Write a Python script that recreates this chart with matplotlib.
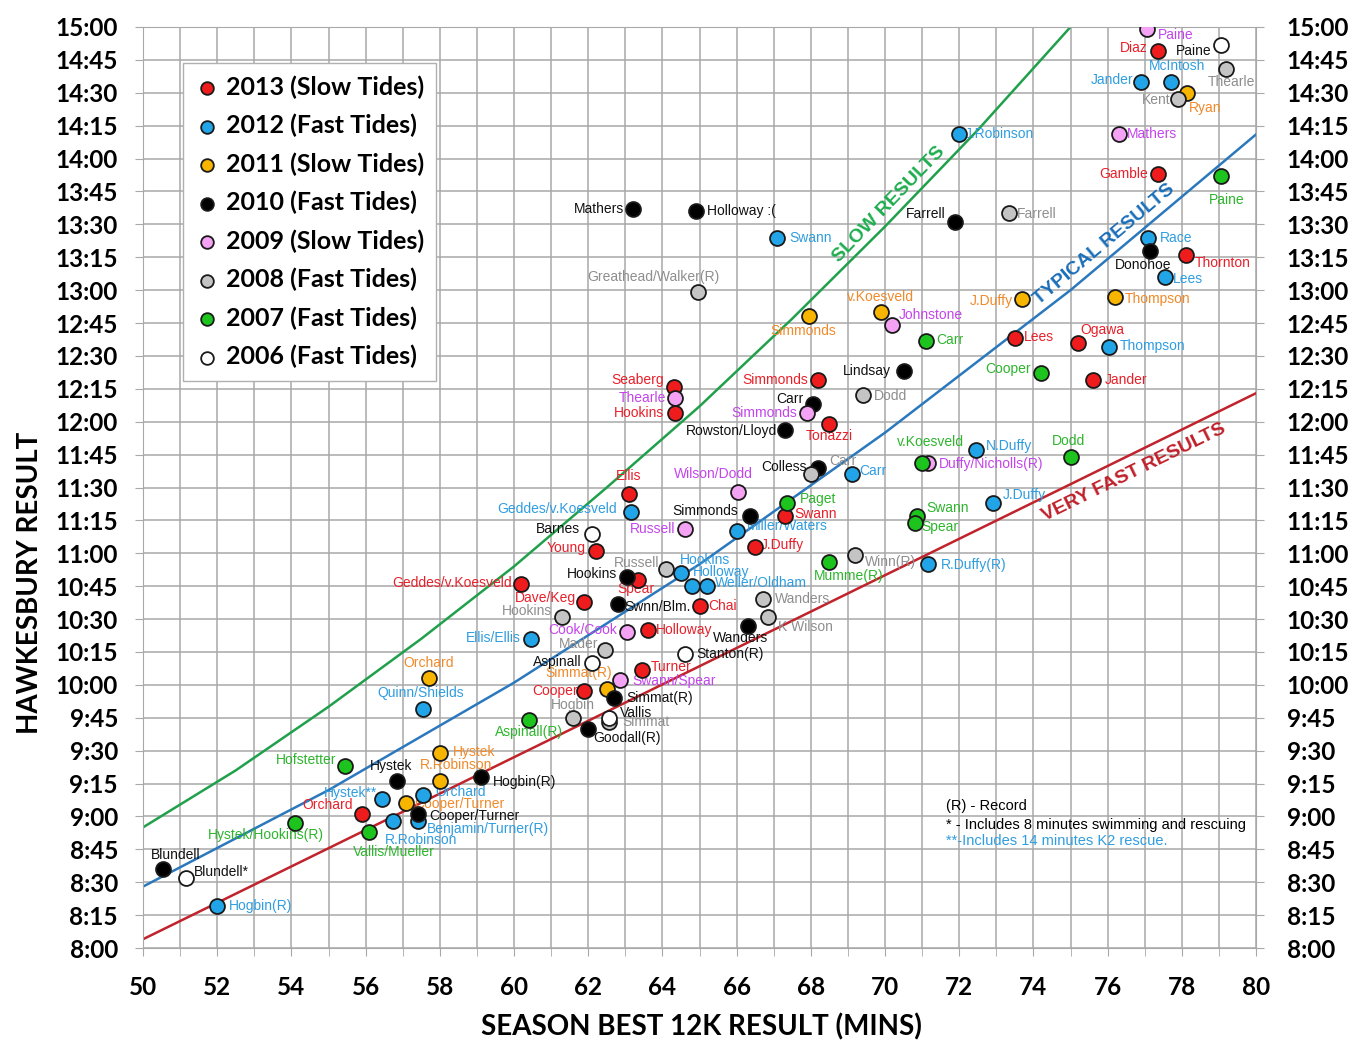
import numpy as np
import matplotlib.pyplot as plt
from matplotlib.ticker import MultipleLocator, FuncFormatter


def t(s):
    # "H:MM" -> minutes after midnight
    h, m = s.split(':')
    return int(h) * 60 + int(m)


# ---- data (x = season best 12k in minutes, y = Hawkesbury time) ----
names_2013 = ['Diaz', 'Gamble', 'Thornton', 'Ogawa', 'Lees', 'Jander', 'Seaberg', 'Hookins',
              'Simmonds', 'Tonazzi', 'Ellis', 'Swann', 'J.Duffy', 'Young', 'Geddes/v.Koesveld',
              'Spear', 'Dave/Keg', 'Chai', 'Holloway', 'Turner', 'Cooper', 'Orchard']
x_2013 = [77.35, 77.35, 78.1, 75.2, 73.5, 75.6, 64.3, 64.35, 68.2, 68.5, 63.1, 67.3, 66.5, 62.2,
          60.2, 63.35, 61.9, 65.0, 63.6, 63.45, 61.9, 55.9]
y_2013 = ['14:49', '13:53', '13:16', '12:36', '12:38', '12:19', '12:16', '12:04', '12:19', '11:59',
          '11:27', '11:17', '11:03', '11:01', '10:46', '10:48', '10:38', '10:36', '10:25', '10:07',
          '9:57', '9:01']

names_2012 = ['Jander', 'McIntosh', 'J.Robinson', 'Swann', 'Race', 'Lees', 'Thompson', 'N.Duffy',
              'Carr', 'J.Duffy', 'Geddes/v.Koesveld', 'Miller/Waters', 'R.Duffy(R)', 'Hookins',
              'Holloway', 'Weller/Oldham', 'Ellis/Ellis', 'Quinn/Shields', 'Hystek**', 'Orchard',
              'R.Robinson', 'Benjamin/Turner(R)', 'Hogbin(R)']
x_2012 = [76.9, 77.7, 72.0, 67.1, 77.1, 77.55, 76.05, 72.45, 69.1, 72.9, 63.15, 66.0, 71.15, 64.5,
          64.8, 65.2, 60.45, 57.55, 56.45, 57.55, 56.75, 57.4, 52.0]
y_2012 = ['14:35', '14:35', '14:11', '13:24', '13:24', '13:06', '12:34', '11:47', '11:36', '11:23',
          '11:19', '11:10', '10:55', '10:51', '10:45', '10:45', '10:21', '9:49', '9:08', '9:10',
          '8:58', '8:58', '8:19']

names_2011 = ['Ryan', 'J.Duffy', 'Thompson', 'v.Koesveld', 'Simmonds', 'Orchard', 'Hystek',
              'R.Robinson', 'Cooper/Turner', 'Simmat(R)']
x_2011 = [78.15, 73.7, 76.2, 69.9, 67.95, 57.7, 58.0, 58.0, 57.1, 62.5]
y_2011 = ['14:30', '12:56', '12:57', '12:50', '12:48', '10:03', '9:29', '9:16', '9:06', '9:58']

names_2010 = ['Mathers', 'Holloway :(', 'Farrell', 'Donohoe', 'Lindsay', 'Carr', 'Rowston/Lloyd',
              'Colless', 'Simmonds', 'Hookins', 'Swnn/Blm.', 'Wanders', 'Simmat(R)', 'Goodall(R)',
              'Hystek', 'Hogbin(R)', 'Cooper/Turner', 'Blundell']
x_2010 = [63.2, 64.9, 71.9, 77.15, 70.5, 68.05, 67.3, 68.2, 66.35, 63.05, 62.8, 66.3, 62.7, 62.0,
          56.85, 59.1, 57.4, 50.55]
y_2010 = ['13:37', '13:36', '13:31', '13:18', '12:23', '12:08', '11:56', '11:39', '11:17', '10:49',
          '10:37', '10:27', '9:54', '9:40', '9:16', '9:18', '9:01', '8:36']

names_2009 = ['Paine', 'Mathers', 'Johnstone', 'Thearle', 'Simmonds', 'Wilson/Dodd', 'Russell',
              'Duffy/Nicholls(R)', 'Cook/Cook', 'Swann/Spear']
x_2009 = [77.05, 76.3, 70.2, 64.35, 67.9, 66.05, 64.6, 71.15, 63.05, 62.85]
y_2009 = ['14:59', '14:11', '12:44', '12:11', '12:04', '11:28', '11:11', '11:41', '10:24', '10:02']

names_2008 = ['Thearle', 'Kent', 'Farrell', 'Greathead/Walker(R)', 'Dodd', 'Carr', 'Winn(R)',
              'Russell', 'Wanders', 'K Wilson', 'Hookins', 'Mader', 'Hogbin', 'Simmat']
x_2008 = [79.2, 77.9, 73.35, 64.95, 69.4, 68.0, 69.2, 64.1, 66.7, 66.85, 61.3, 62.45, 61.6, 62.55]
y_2008 = ['14:41', '14:27', '13:35', '12:59', '12:12', '11:36', '10:59', '10:53', '10:39', '10:31',
          '10:31', '10:16', '9:45', '9:43']

names_2007 = ['Paine', 'Carr', 'Cooper', 'v.Koesveld', 'Dodd', 'Paget', 'Swann', 'Spear',
              'Mumme(R)', 'Aspinall(R)', 'Hofstetter', 'Hystek/Hookins(R)', 'Vallis/Mueller']
x_2007 = [79.05, 71.1, 74.2, 71.0, 75.0, 67.35, 70.85, 70.8, 68.5, 60.4, 55.45, 54.1, 56.1]
y_2007 = ['13:52', '12:37', '12:22', '11:41', '11:44', '11:23', '11:17', '11:14', '10:56', '9:44',
          '9:23', '8:57', '8:53']

names_2006 = ['Paine', 'Barnes', 'Aspinall', 'Stanton(R)', 'Vallis', 'Blundell*']
x_2006 = [79.05, 62.1, 62.1, 64.6, 62.55, 51.15]
y_2006 = ['14:52', '11:09', '10:10', '10:14', '9:45', '8:32']

# guide lines (minutes)
slow_x = [50, 52.5, 55, 57.5, 60, 62.5, 65, 67.5, 70, 72.5, 75]
slow_y = [535, 561, 590, 621, 654, 690, 727, 767, 809, 853, 900]
typical_x = [50, 55, 60, 65, 70, 75, 80]
typical_y = [508, 552, 601, 655, 715, 780, 851]
fast_x = [50, 80]
fast_y = [484, 733]

# ---- label placement (pixel offsets, image y down, alignment) ----
pos_2013 = [(-10, -3, 'right'), (-10, 0, 'right'), (9, 8, 'left'), (2, -13, 'left'), (9, -1, 'left'),
            (12, 0, 'left'), (-10, -7, 'right'), (-11, 0, 'right'), (-10, 0, 'right'), (0, 12, 'center'),
            (0, -18, 'center'), (9, -2, 'left'), (6, -2, 'left'), (-10, -3, 'right'), (-10, -1, 'right'),
            (-21, 9, 'left'), (-8, -4, 'right'), (9, 0, 'left'), (8, 0, 'left'), (9, -3, 'left'),
            (-7, 0, 'right'), (-9, -9, 'right')]
pos_2012 = [(-8, -2, 'right'), (6, -16, 'center'), (6, 0, 'left'), (12, 0, 'left'), (11, 0, 'left'),
            (8, 2, 'left'), (10, -1, 'left'), (10, -4, 'left'), (8, -3, 'left'), (10, -8, 'left'),
            (-14, -3, 'right'), (10, -5, 'left'), (13, 1, 'left'), (-1, -13, 'left'), (1, -14, 'left'),
            (8, -3, 'left'), (-10, -1, 'right'), (-2, -16, 'center'), (-5, -6, 'right'), (12, -2, 'left'),
            (-9, 19, 'left'), (9, 8, 'left'), (12, 0, 'left')]
pos_2011 = [(2, 15, 'left'), (-9, 2, 'right'), (10, 2, 'left'), (-1, -15, 'center'), (-6, 15, 'center'),
            (0, -15, 'center'), (13, -1, 'left'), (16, -16, 'center'), (8, 1, 'left'), (5, -16, 'right')]
pos_2010 = [(-9, 0, 'right'), (11, 0, 'left'), (-10, -8, 'right'), (-7, 14, 'center'), (-13, 0, 'right'),
            (-9, -5, 'right'), (-8, 1, 'right'), (-11, -1, 'right'), (-12, -5, 'right'), (-10, -3, 'right'),
            (6, 3, 'left'), (-7, 12, 'center'), (12, 0, 'left'), (5, 9, 'left'), (-6, -15, 'center'),
            (12, 5, 'left'), (12, 2, 'left'), (12, -14, 'center')]
pos_2009 = [(11, 6, 'left'), (8, 0, 'left'), (6, -10, 'left'), (-9, 0, 'right'), (-10, 0, 'right'),
            (-25, -18, 'center'), (-9, 0, 'right'), (11, 1, 'left'), (-10, -2, 'right'), (13, 1, 'left')]
pos_2008 = [(5, 13, 'center'), (-8, 1, 'right'), (8, 1, 'left'), (-44, -15, 'center'), (11, 1, 'left'),
            (18, -13, 'left'), (10, 7, 'left'), (-7, -6, 'right'), (12, 0, 'left'), (10, 10, 'left'),
            (-10, -6, 'right'), (-7, -6, 'right'), (0, -13, 'center'), (14, 0, 'left')]
pos_2007 = [(6, 24, 'center'), (10, -1, 'left'), (-10, -4, 'right'), (8, -21, 'center'), (-2, -16, 'center'),
            (13, -4, 'left'), (10, -8, 'left'), (7, 4, 'left'), (19, 14, 'center'), (0, 12, 'center'),
            (-9, -6, 'right'), (-29, 12, 'center'), (25, 20, 'center')]
pos_2006 = [(-9, 6, 'right'), (-12, -5, 'right'), (-10, -1, 'right'), (12, 0, 'left'), (11, -5, 'left'),
            (8, -6, 'left')]

series = [
    ('2013 (Slow Tides)', names_2013, x_2013, y_2013, pos_2013, '#ee1c1c', '#e8202a'),
    ('2012 (Fast Tides)', names_2012, x_2012, y_2012, pos_2012, '#22a5e8', '#2f9de0'),
    ('2011 (Slow Tides)', names_2011, x_2011, y_2011, pos_2011, '#f7b500', '#f08a2a'),
    ('2010 (Fast Tides)', names_2010, x_2010, y_2010, pos_2010, '#000000', '#111111'),
    ('2009 (Slow Tides)', names_2009, x_2009, y_2009, pos_2009, '#f4a2f4', '#c444ec'),
    ('2008 (Fast Tides)', names_2008, x_2008, y_2008, pos_2008, '#c4c4c4', '#8e8e8e'),
    ('2007 (Fast Tides)', names_2007, x_2007, y_2007, pos_2007, '#1ec41e', '#2db52d'),
    ('2006 (Fast Tides)', names_2006, x_2006, y_2006, pos_2006, '#ffffff', '#111111'),
]

plt.rcParams['font.family'] = ['Liberation Sans', 'DejaVu Sans']

fig = plt.figure(figsize=(13.7, 10.44), dpi=100)
ax = fig.add_axes([143 / 1370, 1 - 948 / 1044, 1113 / 1370, 921 / 1044])

# guide lines
ax.plot(slow_x, slow_y, color='#21a04c', lw=1.8, zorder=2)
ax.plot(typical_x, typical_y, color='#2b78bd', lw=1.8, zorder=2)
ax.plot(fast_x, fast_y, color='#c0232b', lw=1.8, zorder=2)


def line_text(xs, ys, xc, yc, s, color):
    # rotate the text along the local segment of the guide line
    i = min(np.searchsorted(xs, xc), len(xs) - 1)
    i = max(i, 1)
    ang = np.degrees(np.arctan2(ys[i] - ys[i - 1], xs[i] - xs[i - 1]))
    ax.text(xc, yc, s, color=color, fontsize=14, fontweight='bold', rotation=ang,
            transform_rotates_text=True, rotation_mode='anchor', ha='center', va='center', zorder=4)


line_text(slow_x, slow_y, 70.1, 819, 'SLOW RESULTS', '#1fae50')
line_text(typical_x, typical_y, 75.9, 801, 'TYPICAL RESULTS', '#1a6eb8')
line_text(fast_x, fast_y, 76.7, 697, 'VERY FAST RESULTS', '#c0202a')

# points and labels
for label, names, xs, ys, pos, face, tcol in series:
    yv = [t(s) for s in ys]
    ax.scatter(xs, yv, s=115, color=face, edgecolors='#1a1a1a', linewidths=1.3, zorder=5, label=label)
    for n, x, y, (dx, dy, ha) in zip(names, xs, yv, pos):
        ax.annotate(n, (x, y), xytext=(dx, -dy), textcoords='offset pixels', ha=ha, va='center',
                    fontsize=10, color=tcol, zorder=4)

# notes
ax.text(0.7215, 0.1542, '(R) - Record', transform=ax.transAxes, fontsize=10.5, va='center')
ax.text(0.7215, 0.1336, '* - Includes 8 minutes swimming and rescuing', transform=ax.transAxes,
        fontsize=10.5, va='center')
ax.text(0.7215, 0.1162, '**-Includes 14 minutes K2 rescue.', transform=ax.transAxes,
        fontsize=10.5, va='center', color='#2f9de0')

# axes
ax.set_xlim(50, 80)
ax.set_ylim(480, 900)
ax.xaxis.set_major_locator(MultipleLocator(2))
ax.xaxis.set_minor_locator(MultipleLocator(1))
ax.yaxis.set_major_locator(MultipleLocator(15))
ax.grid(True, which='both', axis='x', color='#a8a8a8', lw=1.1, zorder=0)
ax.grid(True, which='major', axis='y', color='#a8a8a8', lw=1.1, zorder=0)
ax.set_axisbelow(True)
for sp in ax.spines.values():
    sp.set_color('#a8a8a8')

fmt = FuncFormatter(lambda v, p: '%d:%02d' % (int(v) // 60, int(v) % 60))
ax.yaxis.set_major_formatter(fmt)
tick_font = dict(family='Lato', weight='bold', size=17.5)
ax.tick_params(axis='x', which='both', length=6, color='#a8a8a8', pad=14)
ax.tick_params(axis='y', length=6, color='#a8a8a8', pad=12)
for lab in ax.get_xticklabels() + ax.get_yticklabels():
    lab.set_fontproperties(tick_font)

ax2 = ax.twinx()
ax2.set_ylim(480, 900)
ax2.yaxis.set_major_locator(MultipleLocator(15))
ax2.yaxis.set_major_formatter(fmt)
ax2.tick_params(axis='y', length=6, color='#a8a8a8', pad=16)
for lab in ax2.get_yticklabels():
    lab.set_fontproperties(tick_font)
for sp in ax2.spines.values():
    sp.set_visible(False)

ax.set_xlabel('SEASON BEST 12K RESULT (MINS)', family='Lato', weight='bold', size=20, va='center')
ax.set_ylabel('HAWKESBURY RESULT', family='Lato', weight='bold', size=20, va='center')
ax.xaxis.set_label_coords(0.502, -0.086)
ax.yaxis.set_label_coords(-0.1015, 0.396)

leg = ax.legend(loc='upper left', bbox_to_anchor=(0.036, 0.961), borderaxespad=0, frameon=True,
                fancybox=False, edgecolor='#b0b0b0', framealpha=1, handletextpad=0.3,
                labelspacing=0.6, borderpad=0.5, handlelength=0.9, markerscale=0.85,
                prop=dict(family='Lato', weight='bold', size=18))
leg.set_zorder(6)

fig.savefig('out.png', dpi=100)
